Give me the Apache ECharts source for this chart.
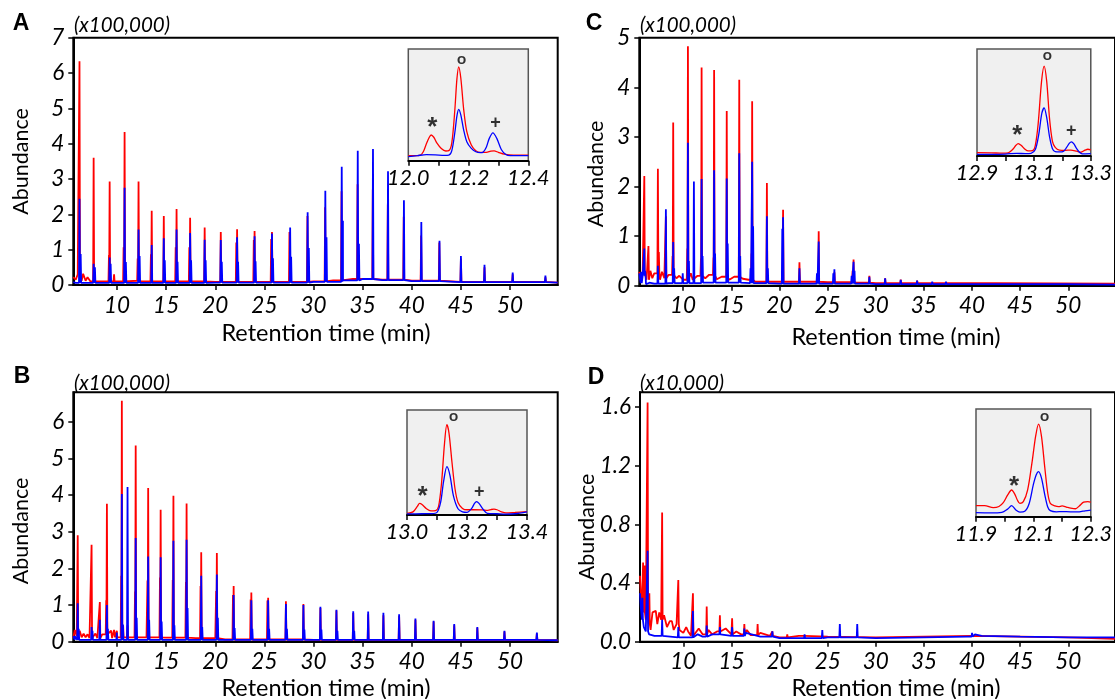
<!DOCTYPE html>
<html><head><meta charset="utf-8">
<script src="https://cdn.jsdelivr.net/npm/echarts@6/dist/echarts.min.js"></script>
<style>html,body{margin:0;padding:0;background:#fff}#c{width:1115px;height:699px}</style>
</head><body><div id="c"></div>
<script>
// ---------- tick labels ----------
const xTicks = [10, 15, 20, 25, 30, 35, 40, 45, 50];
const yTicksA = [0, 1, 2, 3, 4, 5, 6, 7];
const yTicksB = [0, 1, 2, 3, 4, 5, 6];
const yTicksC = [0, 1, 2, 3, 4, 5];
const yTicksD = [0, 0.4, 0.8, 1.2, 1.6];
const insetTicksA = [12.0, 12.1, 12.2, 12.3, 12.4];
const insetLabelsA = [12.0, 12.2, 12.4];
const insetTicksB = [13.0, 13.1, 13.2, 13.3, 13.4];
const insetLabelsB = [13.0, 13.2, 13.4];
const insetTicksC = [12.9, 13.0, 13.1, 13.2, 13.3];
const insetLabelsC = [12.9, 13.1, 13.3];
const insetTicksD = [11.9, 12.0, 12.1, 12.2, 12.3];
const insetLabelsD = [11.9, 12.1, 12.3];

// ---------- Panel A (x100,000) ----------
const aRedBase = [[5.55,0.22],[5.8,0.15],[6.0,0.3],[6.4,0.12],[6.55,0.32],[6.8,0.12],[7.0,0.22],[7.3,0.1],[8,0.1],[11,0.12],[12.5,0.1],[20,0.09],[30,0.1],[32,0.13],[34,0.17],[37,0.15],[40,0.12],[45,0.09],[54.85,0.07]];
const aRedPeaks = [[6.18,6.33],[7.62,3.6],[9.18,0.85],[9.25,2.93],[9.7,0.3],[10.67,1.07],[10.77,4.33],[12.1,0.75],[12.19,2.93],[13.45,0.87],[13.53,2.1],[14.76,1.95],[15.97,1.07],[16.06,2.15],[17.36,1.07],[17.44,1.9],[18.92,1.63],[20.56,1.5],[22.14,1.2],[22.22,1.58],[23.92,1.27],[24.0,1.53],[25.69,1.3],[25.77,1.5],[27.55,1.5],[29.38,1.95],[31.18,2.2],[32.85,2.65],[34.48,2.85],[36.03,2.7],[37.56,2.28],[39.18,1.93],[40.95,1.4],[42.8,1.2],[45.0,0.75],[47.4,0.5],[50.27,0.3],[53.6,0.22]];
const aBlueBase = [[5.55,0.08],[5.8,0.06],[10,0.06],[20,0.07],[30,0.09],[33,0.13],[35,0.17],[37,0.14],[40,0.11],[45,0.08],[54.85,0.07]];
const aBluePeaks = [[6.18,2.44],[6.3,0.88],[7.62,0.6],[7.75,0.5],[9.25,0.78],[9.35,0.6],[10.77,2.75],[10.9,0.65],[12.19,1.57],[12.3,0.82],[13.53,1.13],[14.76,1.32],[14.86,0.7],[16.06,1.57],[16.16,0.66],[17.44,1.47],[17.54,0.7],[18.92,1.28],[19.02,0.7],[20.56,1.27],[20.66,0.66],[22.22,1.35],[22.32,0.66],[24.0,1.38],[24.1,0.67],[25.77,1.46],[25.87,0.76],[27.62,1.63],[27.72,0.8],[29.4,2.06],[29.52,1.05],[31.2,2.67],[31.32,1.35],[32.87,3.35],[32.99,1.82],[34.5,3.8],[34.62,1.17],[36.05,3.85],[37.58,3.22],[39.2,2.4],[40.97,1.78],[42.82,1.25],[45.0,0.82],[47.4,0.57],[50.27,0.35],[53.6,0.27]];

// ---------- Panel B (x100,000) ----------
const bRedBase = [[5.55,0.1],[5.7,0.32],[5.9,0.15],[6.2,0.3],[6.4,0.12],[6.6,0.22],[6.8,0.12],[7.0,0.2],[7.2,0.1],[7.8,0.22],[8.0,0.1],[8.5,0.2],[9.4,0.3],[9.5,0.1],[9.7,0.32],[9.8,0.12],[11,0.12],[13,0.12],[15,0.11],[18,0.1],[20,0.1],[21,0.06],[30,0.05],[54.85,0.04]];
const bRedPeaks = [[6.0,2.9],[7.41,2.64],[8.25,1.08],[8.9,1.13],[8.97,3.76],[9.98,0.3],[10.42,1.8],[10.49,6.57],[10.62,0.45],[11.07,0.45],[11.83,1.37],[11.9,5.35],[13.1,1.67],[13.17,4.19],[14.37,1.75],[14.44,3.6],[15.67,1.68],[15.74,3.98],[17.01,1.63],[17.08,3.77],[18.5,1.52],[18.57,2.44],[20.09,1.38],[20.16,2.42],[21.8,1.27],[21.87,1.52],[23.6,1.15],[23.67,1.34],[25.31,1.12],[25.38,1.2],[27.19,1.1],[28.97,1.03],[30.7,0.92],[32.33,0.85],[34.04,0.78],[35.56,0.75],[37.11,0.72],[38.71,0.7],[40.37,0.6],[42.22,0.55],[44.32,0.45],[46.67,0.38],[49.43,0.28],[52.73,0.22]];
const bBlueBase = [[5.55,0.15],[5.7,0.05],[10,0.05],[54.85,0.04]];
const bBluePeaks = [[5.65,0.2],[6.0,1.05],[6.1,0.35],[7.41,0.4],[7.5,0.3],[8.25,0.6],[8.97,1.0],[9.07,0.35],[9.98,0.25],[10.49,4.03],[10.6,0.47],[11.07,4.22],[11.9,2.83],[12.0,0.65],[13.17,2.32],[13.27,0.6],[14.44,2.3],[14.54,0.55],[15.74,2.75],[15.84,0.45],[17.08,2.78],[17.18,0.92],[18.57,1.8],[18.67,0.4],[20.16,1.83],[20.26,0.65],[21.87,1.27],[21.97,0.37],[23.67,1.13],[23.77,0.35],[25.38,1.13],[25.48,0.35],[27.19,1.03],[27.29,0.35],[28.97,1.0],[29.07,0.33],[30.7,0.95],[30.8,0.33],[32.33,0.87],[32.43,0.3],[34.04,0.83],[34.14,0.3],[35.56,0.82],[37.11,0.79],[38.71,0.75],[40.37,0.63],[42.22,0.57],[44.32,0.48],[46.67,0.4],[49.43,0.3],[52.73,0.25]];

// ---------- Panel C (x100,000) ----------
const cRedBase = [[5.45,0.28],[5.6,0.1],[5.8,0.25],[6.2,0.12],[6.6,0.3],[6.8,0.15],[7.0,0.25],[7.6,0.12],[7.8,0.28],[8.05,0.15],[8.5,0.22],[9.3,0.15],[9.6,0.2],[10.0,0.12],[10.8,0.25],[11.0,0.12],[11.5,0.2],[12.3,0.15],[12.7,0.22],[13.5,0.13],[14.0,0.18],[14.8,0.12],[15.3,0.18],[16.2,0.14],[16.8,0.12],[17.5,0.08],[20,0.08],[25,0.07],[28,0.06],[30,0.05],[40,0.05],[54.85,0.04]];
const cRedPeaks = [[5.97,2.21],[6.4,0.8],[7.38,2.36],[7.48,0.68],[8.21,1.4],[8.9,0.6],[8.97,3.29],[10.43,0.75],[10.5,4.83],[11.85,0.55],[11.92,4.4],[13.15,0.57],[13.22,4.35],[14.53,3.52],[15.83,4.15],[17.1,0.65],[17.17,3.72],[18.7,2.07],[20.38,1.53],[22.08,0.47],[24.08,1.1],[25.71,0.27],[27.6,0.3],[27.7,0.53],[29.34,0.2],[30.98,0.15],[32.6,0.12],[34.3,0.1],[35.87,0.09],[37.5,0.08],[39.0,0.07],[42.5,0.07]];
const cBlueBase = [[5.45,0.25],[5.6,0.05],[5.8,0.2],[6.15,0.03],[6.5,0.06],[7.0,0.04],[8.5,0.05],[12,0.06],[15,0.06],[17,0.05],[20,0.04],[30,0.03],[54.85,0.02]];
const cBluePeaks = [[5.65,0.28],[5.97,0.75],[6.05,0.3],[7.38,0.4],[8.21,1.54],[8.97,0.88],[9.07,0.35],[9.96,0.25],[10.5,2.88],[10.6,0.5],[11.12,2.1],[11.92,2.15],[12.02,0.6],[13.22,2.33],[13.32,0.65],[14.53,2.16],[14.63,0.85],[15.83,2.67],[15.93,0.6],[17.0,0.35],[17.17,2.5],[17.27,1.2],[18.7,1.4],[18.8,0.35],[20.3,1.15],[20.38,1.38],[22.08,0.35],[23.9,0.25],[24.08,0.89],[25.6,0.25],[25.71,0.33],[27.5,0.2],[27.7,0.48],[27.8,0.3],[29.34,0.18],[30.98,0.15],[32.6,0.12],[34.3,0.1],[35.87,0.08],[37.3,0.08],[38.8,0.07],[40.5,0.07],[42.6,0.06],[44.3,0.06],[49.9,0.04]];

// ---------- Panel D (x10,000) ----------
const dRedBase = [[5.5,0.45],[5.6,0.3],[5.7,0.22],[5.9,0.2],[6.1,0.15],[6.4,0.12],[6.6,0.08],[6.8,0.2],[7.0,0.21],[7.3,0.12],[7.5,0.2],[7.7,0.15],[8.0,0.18],[8.3,0.1],[8.6,0.14],[9.0,0.08],[9.3,0.12],[9.6,0.08],[10,0.06],[10.3,0.1],[10.5,0.07],[10.8,0.04],[11.2,0.05],[11.6,0.09],[12,0.05],[12.6,0.08],[13,0.05],[13.5,0.07],[14,0.06],[14.4,0.09],[15,0.05],[15.5,0.07],[16,0.05],[16.6,0.08],[17,0.045],[18,0.06],[19,0.04],[20,0.03],[22,0.04],[25,0.035],[30,0.03],[35,0.035],[40,0.04],[45,0.035],[50,0.03],[54.85,0.02]];
const dRedPeaks = [[5.82,0.54],[5.96,0.52],[6.29,1.63],[6.47,0.33],[7.19,0.21],[7.8,0.88],[8.86,0.15],[9.48,0.42],[11.0,0.33],[12.43,0.24],[13.8,0.18],[15.07,0.16],[16.34,0.12],[17.72,0.12],[19.25,0.07],[20.8,0.05],[22.6,0.04]];
const dBlueBase = [[5.5,0.33],[5.6,0.22],[5.7,0.15],[5.9,0.1],[6.1,0.07],[6.45,0.05],[7,0.04],[8,0.03],[10,0.03],[11.5,0.05],[12,0.035],[13,0.05],[15,0.04],[16.5,0.06],[18,0.035],[20,0.025],[25,0.03],[30,0.025],[35,0.03],[39.5,0.035],[40.3,0.05],[41,0.04],[45,0.035],[50,0.03],[54.85,0.03]];
const dBluePeaks = [[5.75,0.3],[6.29,0.62],[7.8,0.15],[9.48,0.1],[11.0,0.21],[12.43,0.11],[13.8,0.1],[15.07,0.1],[16.34,0.09],[19.25,0.07],[22.6,0.05],[24.44,0.08],[26.26,0.12],[28.07,0.12],[40.0,0.06],[51.95,0.04]];

// ---------- Insets (relative scale 0–100) ----------
const insetARed = [[12.00,4.5],[12.02,4.5],[12.04,5],[12.05,8],[12.06,15],[12.07,21],[12.076,23],[12.085,21],[12.095,16],[12.11,11],[12.125,8.7],[12.135,9],[12.145,16],[12.155,45],[12.162,73],[12.168,84],[12.175,74],[12.185,45],[12.195,26],[12.21,14],[12.225,9],[12.24,7.5],[12.26,7.5],[12.275,8.5],[12.286,8.8],[12.30,7.5],[12.32,5.8],[12.35,5],[12.4,5]];
const insetABlue = [[12.00,3.6],[12.03,4.5],[12.06,5.5],[12.09,5.3],[12.12,4.8],[12.135,5],[12.145,9],[12.155,25],[12.162,40],[12.168,46],[12.175,41],[12.185,27],[12.195,17],[12.21,11],[12.225,8],[12.24,7.2],[12.25,7.8],[12.26,12],[12.27,20],[12.282,25],[12.295,20],[12.31,10],[12.325,5.5],[12.34,4.5],[12.4,4.5]];
const insetBRed = [[13.00,1.6],[13.02,3],[13.035,8.5],[13.042,11],[13.05,10],[13.065,6],[13.08,4],[13.095,4.2],[13.105,8],[13.115,30],[13.125,68],[13.133,86],[13.14,78],[13.15,50],[13.16,25],[13.17,12],[13.185,6.3],[13.2,5],[13.22,5],[13.25,4.8],[13.27,4.5],[13.28,5.2],[13.29,5.6],[13.30,5],[13.315,3],[13.33,2],[13.36,2.5],[13.4,3.2]];
const insetBBlue = [[13.00,1],[13.05,1.2],[13.08,1.3],[13.1,2.5],[13.112,12],[13.122,32],[13.133,46],[13.143,38],[13.155,18],[13.17,6],[13.185,3],[13.2,2.5],[13.215,6],[13.225,11],[13.232,12.7],[13.24,11],[13.255,5],[13.268,1.6],[13.3,1.2],[13.33,0.8],[13.36,1.2],[13.4,3]];
const insetCRed = [[12.90,3.1],[12.95,3],[12.99,2.6],[13.01,3],[13.025,6],[13.037,10],[13.045,11.6],[13.055,10],[13.07,6],[13.08,4.7],[13.095,5],[13.105,10],[13.115,30],[13.127,70],[13.136,84],[13.145,70],[13.155,35],[13.165,14],[13.175,8],[13.19,5.5],[13.21,5.3],[13.23,5.5],[13.25,4.5],[13.265,3.5],[13.28,5.5],[13.29,6.3],[13.3,5.8]];
const insetCBlue = [[12.90,1.6],[12.95,1.6],[13.0,1.8],[13.04,2.5],[13.07,2.2],[13.09,2.5],[13.105,6],[13.117,20],[13.128,40],[13.136,45],[13.145,36],[13.155,18],[13.165,7],[13.175,4],[13.19,3.8],[13.205,4.5],[13.215,8],[13.225,12],[13.232,13.2],[13.24,11.5],[13.25,7],[13.26,3.5],[13.27,2],[13.3,2.2]];
const insetDRed = [[11.90,10.2],[11.93,10.2],[11.96,8.4],[11.98,9.5],[11.995,13],[12.01,20],[12.024,24.8],[12.035,21],[12.045,15],[12.053,12.4],[12.065,14],[12.08,25],[12.095,50],[12.108,75],[12.118,86],[12.128,75],[12.14,45],[12.15,22],[12.159,12.4],[12.175,10],[12.188,9.3],[12.2,10],[12.215,9],[12.23,8],[12.247,7.4],[12.26,10],[12.275,13.5],[12.29,14],[12.3,13.5]];
const insetDBlue = [[11.90,3.7],[11.95,3.5],[11.99,4],[12.01,7],[12.024,10.2],[12.04,6],[12.053,4.3],[12.07,5],[12.085,12],[12.1,30],[12.11,39],[12.118,41.8],[12.128,36],[12.14,20],[12.15,9],[12.159,5.6],[12.18,4.5],[12.2,4.8],[12.23,4.5],[12.26,4.5],[12.28,5.5],[12.3,6.2]];
// peak markers: [time, level, symbol]
const marksA = [[12.08,33.5,'*'],[12.178,91,'o'],[12.291,33.5,'+']];
const marksB = [[13.052,22,'*'],[13.155,94,'o'],[13.241,22,'+']];
const marksC = [[13.042,23.4,'*'],[13.147,94.4,'o'],[13.231,23.4,'+']];
const marksD = [[12.033,32.5,'*'],[12.139,93.8,'o']];

// ---------- build ----------
const HW = 0.05;
function trace(base, peaks) {
  const pts = base.map(p => [p[0], p[1]]);
  peaks.forEach(([t, h]) => {
    let foot = base[0][1];
    for (const b of base) if (b[0] <= t) foot = b[1];
    pts.push([t - HW, foot], [t, h], [t + HW, foot]);
  });
  pts.sort((a, b) => a[0] - b[0]);
  return pts;
}
const FONT = 'Lato';
const RED = '#ff0000', BLUE = '#0000ff';

const grids = [
  {left: 73.3, top: 37.7, width: 484.4, height: 247.3},
  {left: 73.3, top: 392.3, width: 484.4, height: 249.4},
  {left: 639.3, top: 37.7, width: 485, height: 248},
  {left: 640, top: 392.3, width: 484.6, height: 249.4},
  {left: 408.3, top: 49, width: 120, height: 111.7},
  {left: 407, top: 410, width: 120, height: 105},
  {left: 977, top: 49, width: 121, height: 107},
  {left: 976, top: 409, width: 121.5, height: 107.7}
].map((g, i) => Object.assign({show: true, containLabel: false,
  borderColor: i < 4 ? '#000' : '#555', borderWidth: i < 4 ? 2 : 1.5,
  backgroundColor: i < 4 ? 'transparent' : '#f0f0f0'}, g));

const xRanges = [[5.55, 54.85], [5.55, 54.85], [5.45, 54.85], [5.5, 54.85]];
const yRanges = [[0, 7, yTicksA], [0, 6.8, yTicksB], [0, 5, yTicksC], [0, 1.7, yTicksD]];
const insetX = [[12.0, 12.4, insetTicksA, insetLabelsA], [13.0, 13.4, insetTicksB, insetLabelsB], [12.9, 13.3, insetTicksC, insetLabelsC], [11.9, 12.3, insetTicksD, insetLabelsD]];

const xAxes = [], yAxes = [];
for (let i = 0; i < 4; i++) {
  xAxes.push({gridIndex: i, type: 'value', min: xRanges[i][0], max: xRanges[i][1],
    axisLine: {onZero: false, lineStyle: {color: '#000', width: 2}},
    axisTick: {customValues: xTicks, length: 5, lineStyle: {color: '#000', width: 1.5}},
    axisLabel: {customValues: xTicks, fontFamily: FONT, fontStyle: 'italic', fontSize: 22.5, color: '#000', margin: 9},
    splitLine: {show: false}});
  const isD = i === 3;
  yAxes.push({gridIndex: i, type: 'value', min: yRanges[i][0], max: yRanges[i][1],
    axisLine: {show: true, lineStyle: {color: '#000', width: 2}},
    axisTick: {show: true, customValues: yRanges[i][2], length: 5, lineStyle: {color: '#000', width: 1.5}},
    axisLabel: {customValues: yRanges[i][2], fontFamily: FONT, fontStyle: 'italic', fontSize: 22.5, color: '#000', margin: 9,
      formatter: v => isD ? v.toFixed(1) : String(v)},
    splitLine: {show: false}});
}
for (let i = 0; i < 4; i++) {
  const ix = insetX[i];
  xAxes.push({gridIndex: 4 + i, type: 'value', min: ix[0], max: ix[1],
    axisLine: {onZero: false, lineStyle: {color: '#000', width: 1.8}},
    axisTick: {customValues: ix[2], length: 5, lineStyle: {color: '#000', width: 1.5}},
    axisLabel: {customValues: ix[3], fontFamily: FONT, fontStyle: 'italic', fontSize: 21.5, color: '#000', margin: 6,
      formatter: v => v.toFixed(1)},
    splitLine: {show: false}});
  yAxes.push({gridIndex: 4 + i, type: 'value', min: 0, max: 100, show: false, splitLine: {show: false}});
}

const mains = [[aRedBase, aRedPeaks, aBlueBase, aBluePeaks], [bRedBase, bRedPeaks, bBlueBase, bBluePeaks],
  [cRedBase, cRedPeaks, cBlueBase, cBluePeaks], [dRedBase, dRedPeaks, dBlueBase, dBluePeaks]];
const insets = [[insetARed, insetABlue, marksA], [insetBRed, insetBBlue, marksB], [insetCRed, insetCBlue, marksC], [insetDRed, insetDBlue, marksD]];
const series = [];
mains.forEach((m, i) => {
  series.push({type: 'line', xAxisIndex: i, yAxisIndex: i, data: trace(m[0], m[1]), showSymbol: false, symbol: 'none',
    lineStyle: {color: RED, width: 1.8}, z: 2});
  series.push({type: 'line', xAxisIndex: i, yAxisIndex: i, data: trace(m[2], m[3]), showSymbol: false, symbol: 'none',
    lineStyle: {color: BLUE, width: 1.8}, z: 3});
});
insets.forEach((s, i) => {
  const k = 4 + i;
  series.push({type: 'line', xAxisIndex: k, yAxisIndex: k, data: s[0], smooth: 0.3, showSymbol: false, symbol: 'none',
    lineStyle: {color: RED, width: 1.3}, z: 4});
  series.push({type: 'line', xAxisIndex: k, yAxisIndex: k, data: s[1], smooth: 0.3, showSymbol: false, symbol: 'none',
    lineStyle: {color: BLUE, width: 1.3}, z: 5});
  series.push({type: 'scatter', xAxisIndex: k, yAxisIndex: k, z: 6, symbol: 'circle', symbolSize: 1,
    itemStyle: {color: 'rgba(0,0,0,0)'},
    data: s[2].map(d => ({value: d, label: {
      show: true, position: 'inside', color: '#000',
      fontFamily: d[2] === 'o' ? FONT : '"Liberation Sans"',
      fontSize: d[2] === '*' ? 26 : (d[2] === 'o' ? 16 : 18),
      fontWeight: 'bold',
      offset: d[2] === '*' ? [0, 5] : [0, 0],
      formatter: d[2]}}))});
});

function txt(text, x, y, font, rot) {
  return {type: 'text', x: x, y: y, rotation: rot || 0, z: 10,
    style: {text: text, font: font, fill: '#000', textAlign: 'center', textVerticalAlign: 'middle', align: 'center', verticalAlign: 'middle'}};
}
function unit(text, x, y) {
  return {type: 'text', x: x, y: y, z: 10, style: {text: text, font: 'italic 20.5px Lato', fill: '#000', textVerticalAlign: 'middle', verticalAlign: 'middle'}};
}
const PL = 'bold 23px "Liberation Sans"';
const graphic = [
  txt('A', 21, 24, PL), txt('B', 22, 377, PL), txt('C', 594, 23.5, PL), txt('D', 596, 377.5, PL),
  unit('(x100,000)', 74, 25), unit('(x100,000)', 74, 383.5), unit('(x100,000)', 640, 25), unit('(x10,000)', 640, 383.5),
  txt('Abundance', 21, 161.5, '21.5px Lato', Math.PI / 2),
  txt('Abundance', 21, 531, '21.5px Lato', Math.PI / 2),
  txt('Abundance', 596, 174, '21.5px Lato', Math.PI / 2),
  txt('Abundance', 587, 527, '21.5px Lato', Math.PI / 2),
  txt('Retention time (min)', 326, 333, '23.5px Lato'),
  txt('Retention time (min)', 326, 688, '23.5px Lato'),
  txt('Retention time (min)', 896, 337, '23.5px Lato'),
  txt('Retention time (min)', 896, 688, '23.5px Lato')
];

const chart = echarts.init(document.getElementById('c'), null, {renderer: 'canvas'});
chart.setOption({
  animation: false,
  backgroundColor: '#fff',
  textStyle: {fontFamily: FONT},
  grid: grids, xAxis: xAxes, yAxis: yAxes, series: series, graphic: graphic
});
</script></body></html>
